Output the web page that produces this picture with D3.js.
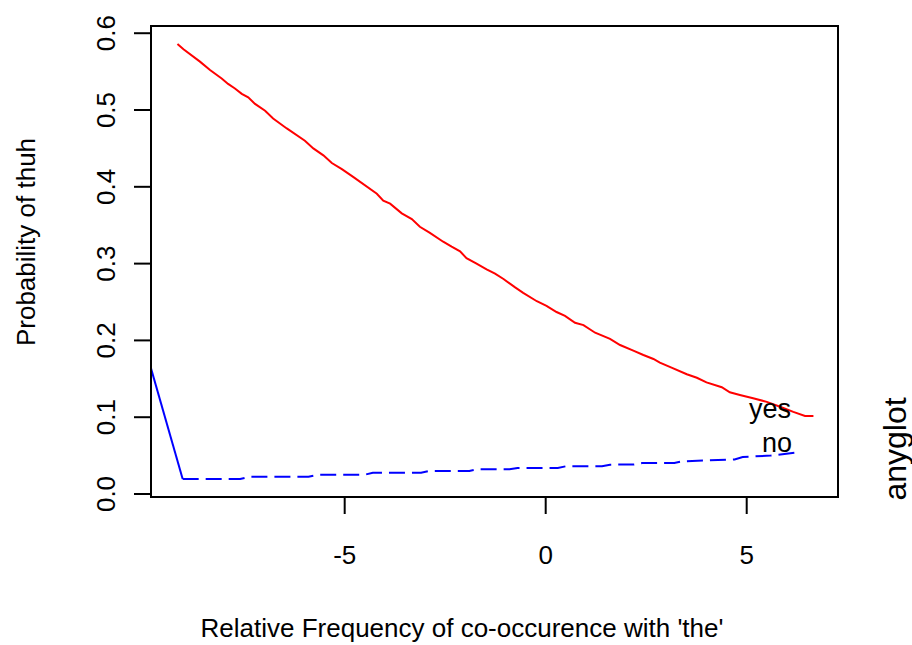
<!DOCTYPE html>
<html>
<head>
<meta charset="utf-8">
<style>
  body { margin: 0; background: #fff; }
  svg { font-family: 'Liberation Sans', Arial, Helvetica, sans-serif; }
</style>
</head>
<body>
<svg width="912" height="645"></svg>
<script src="https://d3js.org/d3.v7.min.js"></script>
<script>
// anyglot = yes (red, solid)
let yesX = [-9.16, -9.01, -8.6, -8.35, -8.06, -7.9, -7.73, -7.56, -7.4, -7.23, -6.98, -6.78, -6.44, -5.99, -5.78, -5.53, -5.32, -5.07, -4.79, -4.2, -4.04, -3.87, -3.58, -3.33, -3.13, -2.88, -2.55, -2.34, -2.13, -1.97, -1.72, -1.47, -1.26, -1.05, -0.76, -0.56, -0.22, 0.02, 0.27, 0.48, 0.73, 0.94, 1.23, 1.6, 1.85, 2.18, 2.43, 2.68, 2.84, 3.13, 3.51, 3.76, 4.0, 4.38, 4.58, 4.83, 5.16, 5.5, 5.83, 6.16, 6.45, 6.66]
let yesY = [0.586, 0.579, 0.563, 0.552, 0.541, 0.534, 0.528, 0.521, 0.5165, 0.508, 0.499, 0.489, 0.476, 0.46, 0.45, 0.441, 0.431, 0.423, 0.413, 0.391, 0.382, 0.378, 0.3655, 0.358, 0.348, 0.34, 0.3285, 0.322, 0.316, 0.307, 0.3, 0.2926, 0.287, 0.28, 0.269, 0.262, 0.251, 0.245, 0.237, 0.232, 0.223, 0.22, 0.21, 0.202, 0.194, 0.1866, 0.181, 0.1758, 0.171, 0.1645, 0.156, 0.1514, 0.1454, 0.139, 0.1324, 0.129, 0.1246, 0.12, 0.1137, 0.107, 0.1016, 0.1016]

// anyglot = no (blue, dashed)
let noX = [-9.03, -7.6, -7.36, -5.9, -5.65, -4.5, -4.3, -3.1, -2.9, -1.9, -1.7, -0.9, -0.7, 0.3, 0.5, 1.4, 1.6, 2.2, 2.4, 3.2, 3.4, 4.7, 4.9, 5.6, 6.33]
let noY = [0.0195, 0.0195, 0.0225, 0.0225, 0.0251, 0.0251, 0.0277, 0.0277, 0.0299, 0.03, 0.0321, 0.0323, 0.0339, 0.034, 0.0361, 0.0362, 0.0382, 0.0385, 0.0404, 0.0405, 0.0425, 0.045, 0.0482, 0.05, 0.0547]

// solid blue stub at the left edge
let stubX = [-9.82, -9.03]
let stubY = [0.164, 0.0195]

let xTicks = [-5, 0, 5]
let yTicks = [0, 0.1, 0.2, 0.3, 0.4, 0.5, 0.6]
let traceLabels = ["yes", "no"]

let svg = d3.select("svg")
let pLeft = 151, pRight = 838, pTop = 26, pBottom = 497

let x = d3.scaleLinear().domain([-9.818, 7.271]).range([pLeft, pRight])
let y = d3.scaleLinear().domain([-0.0039, 0.6094]).range([pBottom, pTop])

svg.append("clipPath").attr("id", "plotclip")
  .append("rect").attr("x", pLeft).attr("y", pTop)
  .attr("width", pRight - pLeft).attr("height", pBottom - pTop)

let line = d3.line().x(d => x(d[0])).y(d => y(d[1]))
let plot = svg.append("g").attr("clip-path", "url(#plotclip)")

plot.append("path")
  .attr("d", line(d3.zip(yesX, yesY)))
  .attr("fill", "none").attr("stroke", "#ff0000").attr("stroke-width", 2)

plot.append("path")
  .attr("d", line(d3.zip(stubX, stubY)))
  .attr("fill", "none").attr("stroke", "#0000ff").attr("stroke-width", 2)

plot.append("path")
  .attr("d", line(d3.zip(noX, noY)))
  .attr("fill", "none").attr("stroke", "#0000ff").attr("stroke-width", 2)
  .attr("stroke-dasharray", "16,7")

// box
svg.append("rect")
  .attr("x", pLeft).attr("y", pTop)
  .attr("width", pRight - pLeft).attr("height", pBottom - pTop)
  .attr("fill", "none").attr("stroke", "#000").attr("stroke-width", 2)

// x axis
let xAxis = svg.append("g")
xAxis.selectAll("line").data(xTicks).join("line")
  .attr("x1", d => x(d)).attr("x2", d => x(d))
  .attr("y1", pBottom).attr("y2", pBottom + 17)
  .attr("stroke", "#000").attr("stroke-width", 2)
xAxis.selectAll("text").data(xTicks).join("text")
  .attr("x", d => x(d)).attr("y", 564)
  .attr("text-anchor", "middle").attr("font-size", 26)
  .text(d => d)

// y axis
let yAxis = svg.append("g")
yAxis.selectAll("line").data(yTicks).join("line")
  .attr("x1", pLeft - 17).attr("x2", pLeft)
  .attr("y1", d => y(d)).attr("y2", d => y(d))
  .attr("stroke", "#000").attr("stroke-width", 2)
yAxis.selectAll("text").data(yTicks).join("text")
  .attr("transform", d => `translate(115,${y(d)}) rotate(-90)`)
  .attr("text-anchor", "middle").attr("font-size", 26)
  .text(d => d.toFixed(1))

// axis titles
svg.append("text")
  .attr("x", 462).attr("y", 637)
  .attr("text-anchor", "middle").attr("font-size", 26)
  .text("Relative Frequency of co-occurence with 'the'")

svg.append("text")
  .attr("transform", "translate(35,242) rotate(-90)")
  .attr("text-anchor", "middle").attr("font-size", 26)
  .text("Probability of thuh")

svg.append("text")
  .attr("transform", "translate(906,449) rotate(-90)")
  .attr("text-anchor", "middle").attr("font-size", 32)
  .text("anyglot")

// trace labels
let labelPos = [[770, 418], [777, 452]]
svg.selectAll(".trace").data(traceLabels).join("text")
  .attr("class", "trace")
  .attr("x", (d, i) => labelPos[i][0]).attr("y", (d, i) => labelPos[i][1])
  .attr("text-anchor", "middle").attr("font-size", 27)
  .text(d => d)
</script>
</body>
</html>
